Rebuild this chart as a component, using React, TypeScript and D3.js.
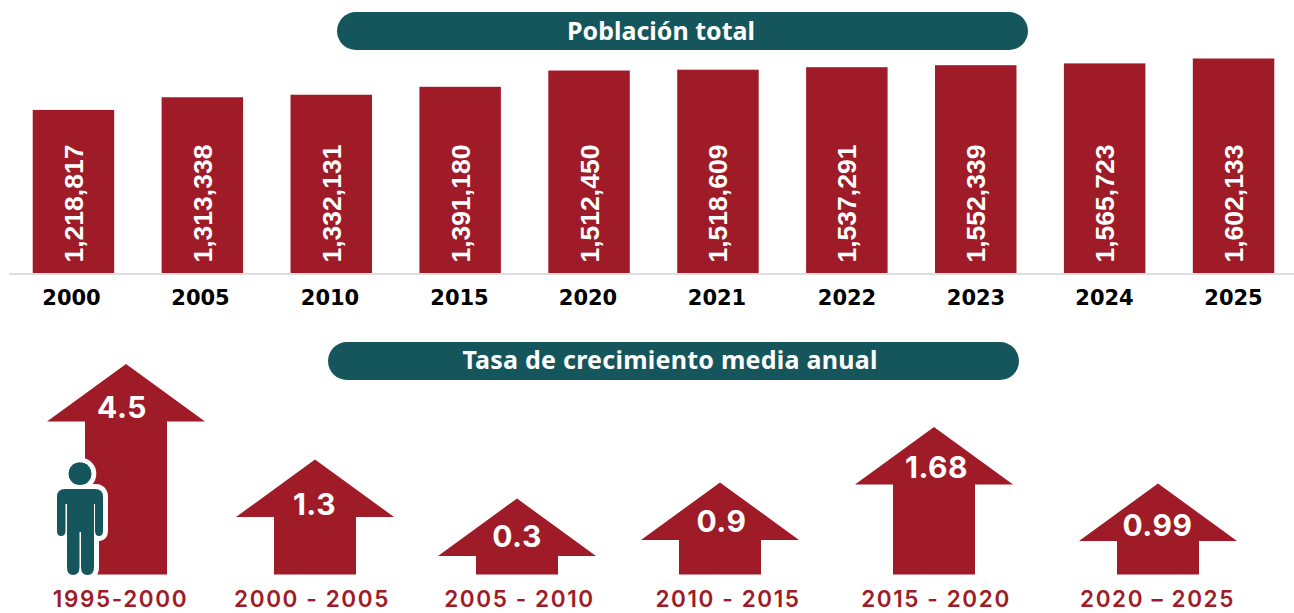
import React from "react";
import * as d3 from "d3";

const years = ["2000","2005","2010","2015","2020","2021","2022","2023","2024","2025"];
const population = [1218817,1313338,1332131,1391180,1512450,1518609,1537291,1552339,1565723,1602133];
const periods = ["1995-2000","2000 - 2005","2005 - 2010","2010 - 2015","2015 - 2020","2020 – 2025"];
const rates = ["4.5","1.3","0.3","0.9","1.68","0.99"];
const titleTop = "Población total";
const titleBottom = "Tasa de crecimiento media anual";

const RED = "#9e1b27";
const TEAL = "#15565c";
const W = 1294, H = 613;
const BASE = 273.5, ARROW_BASE = 574.5;

const x = d3.scaleBand<string>().domain(years).range([9, 1298]).paddingInner(0.368).paddingOuter(0.184);
const y = d3.scaleLinear().domain([0, d3.max(population)!]).range([BASE, 58.5]);
const fmt = d3.format(",");

// the source graphic places things by hand, so these scales carry its irregular spacing
const yearLabelX = d3.scaleOrdinal<string, number>().domain(years).range([71.5, 200.5, 330, 459.5, 588, 717, 847, 976, 1104.5, 1233.5]);
const arrowH = d3.scaleLinear().domain([0.3, 0.9, 0.99, 1.3, 1.68, 4.5]).range([76, 92, 91, 115, 147.5, 210.5]);
const arrowX = d3.scaleOrdinal<string, number>().domain(periods).range([126, 315, 517, 720, 934, 1158]);
const labelX = d3.scaleOrdinal<string, number>().domain(periods).range([120.5, 312, 519.5, 728, 936, 1157.5]);
const rateX = d3.scaleOrdinal<string, number>().domain(rates).range([122, 314.5, 517, 721.5, 936.5, 1157.5]);
const rateY = d3.scaleOrdinal<string, number>().domain(rates).range([418, 515, 547, 532, 478, 536]);

const arrowPath = d3.line();
function arrow(cx: number, h: number) {
  const top = ARROW_BASE - h, neck = top + 57.5;
  return arrowPath([
    [cx, top], [cx + 79, neck], [cx + 41, neck], [cx + 41, ARROW_BASE],
    [cx - 41, ARROW_BASE], [cx - 41, neck], [cx - 79, neck],
  ])! + "Z";
}

const BODY = "M65,489 H95 Q103,489 103,497 V531 Q103,536 99,536 Q95,536 95,531 V504 H94 V567 Q94,575 87.5,575 Q81,575 81,567 V532 H79.5 V567 Q79.5,575 73,575 Q67,575 67,567 V504 H65.5 V531 Q65.5,536 61,536 Q57,536 57,531 V497 Q57,489 65,489 Z";

export default function App() {
  return (
    <svg width={W} height={H} viewBox={`0 0 ${W} ${H}`} style={{ position: "absolute", left: 0, top: 0, background: "#fff" }}>
      <rect x={337} y={12} width={691} height={38} rx={19} fill={TEAL} />
      <text x={661} y={39.5} textAnchor="middle" fill="#fff" fontFamily="Noto Sans" fontWeight={700} fontSize={25}>{titleTop}</text>

      {years.map((yr, i) => (
        <g key={yr}>
          <rect x={x(yr)} y={y(population[i])} width={x.bandwidth()} height={BASE - y(population[i])} fill={RED} />
          <text transform={`translate(${x(yr)! + x.bandwidth() / 2 + 9.5},262.5) rotate(-90)`} fill="#fff"
            fontFamily="Liberation Sans" fontWeight={700} fontSize={26.5}>{fmt(population[i])}</text>
          <text x={yearLabelX(yr)} y={305} textAnchor="middle" fill="#000"
            fontFamily="DejaVu Sans" fontWeight={700} fontSize={21}>{yr}</text>
        </g>
      ))}
      <line x1={9} x2={W} y1={274} y2={274} stroke="#dedede" strokeWidth={2} />

      <rect x={328} y={342} width={691} height={38} rx={19} fill={TEAL} />
      <text x={670} y={368.5} textAnchor="middle" fill="#fff" fontFamily="Noto Sans" fontWeight={700} fontSize={25} letterSpacing={0.25}>{titleBottom}</text>

      {periods.map((p, i) => {
        const v = +rates[i], h = arrowH(v), cx = arrowX(p);
        return (
          <g key={p}>
            <path d={arrow(cx, h)} fill={RED} />
            <text x={rateX(rates[i])} y={rateY(rates[i])} textAnchor="middle" fill="#fff"
              fontFamily="Inter" fontWeight={700} fontSize={30} letterSpacing={0.5}>{rates[i]}</text>
            <text x={labelX(p)} y={607} textAnchor="middle" fill={RED}
              fontFamily="Inter" fontWeight={600} fontSize={22.5} letterSpacing={1.6}>{p}</text>
          </g>
        );
      })}

      <circle cx={80} cy={473.7} r={11.3} fill={TEAL} stroke="#fff" strokeWidth={10} paintOrder="stroke" />
      <path d={BODY} fill={TEAL} stroke="#fff" strokeWidth={10} strokeLinejoin="round" paintOrder="stroke" />
      <circle cx={80} cy={473.7} r={11.3} fill={TEAL} />
    </svg>
  );
}
